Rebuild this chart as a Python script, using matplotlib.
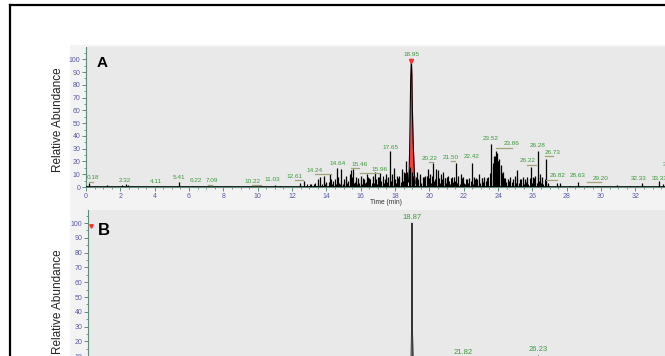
import matplotlib
matplotlib.use('Agg')
import matplotlib.pyplot as plt
import numpy as np
from matplotlib.patches import Rectangle
from matplotlib.lines import Line2D
from matplotlib.ticker import MultipleLocator

plt.rcParams['font.family'] = ['Liberation Sans', 'DejaVu Sans']

# ---------------- data ----------------
# Panel A: labelled peaks (retention time, label position)
label_times_A = [0.18, 2.32, 4.11, 5.41, 6.22, 7.09, 10.22, 11.03, 12.61, 14.24,
                 14.64, 15.46, 15.96, 17.65, 18.95, 20.22, 21.50, 22.42, 23.52, 23.86,
                 26.22, 26.28, 26.73, 26.82, 28.63, 29.20, 32.33, 33.33, 34.07]
label_text_A = ["0.18", "2.32", "4.11", "5.41", "6.22", "7.09", "10.22", "11.03", "12.61", "14.24",
                "14.64", "15.46", "15.96", "17.65", "18.95", "20.22", "21.50", "22.42", "23.52", "23.86",
                "26.22", "26.28", "26.73", "26.82", "28.63", "29.20", "32.33", "33.33", "34.07"]
label_x_A = [0.43, 2.27, 4.06, 5.42, 6.39, 7.36, 9.68, 10.87, 12.17, 13.32,
             14.68, 15.92, 17.08, 17.71, 18.97, 19.99, 21.24, 22.46, 23.57, 24.79,
             25.70, 26.31, 27.18, 27.45, 28.65, 29.98, 32.17, 33.43, 34.07]
label_y_A = [7.3, 4.9, 4.2, 7.6, 4.7, 4.7, 4.2, 5.5, 8.1, 13.3,
             18.6, 17.8, 13.9, 31.1, 104.1, 22.5, 23.3, 23.7, 37.8, 33.7,
             20.6, 32.1, 27.2, 8.8, 8.8, 6.8, 6.8, 6.8, 18.0]

# Panel A: peak apexes (time min, relative abundance %)
peak_t_A = [0.18, 1.25, 2.10, 2.32, 2.45, 4.11, 5.41, 6.22, 7.09, 8.3, 10.22, 11.03, 11.3,
            12.46, 12.68, 13.10, 13.53, 13.63, 13.88, 14.00, 14.20, 14.37, 14.60, 14.70,
            14.84, 15.00, 15.17, 15.35, 15.46, 15.54, 15.70, 15.85, 16.00, 16.20, 16.35,
            16.50, 16.70, 16.85, 17.00, 17.15, 17.30, 17.45, 17.56, 17.70, 17.80, 17.95,
            18.10, 18.25, 18.40, 18.50, 18.65, 19.30, 19.45, 19.60, 19.73, 19.90, 20.03,
            20.22, 20.40, 20.50, 20.65, 20.80, 20.90, 21.00, 21.10, 21.30, 21.53, 21.69,
            21.82, 21.98, 22.17, 22.33, 22.46, 22.62, 22.76, 22.89, 23.05, 23.18, 23.34,
            23.57, 23.69, 23.79, 23.88, 23.96, 24.06, 24.15, 24.27, 24.41, 24.56, 24.70,
            24.85, 24.99, 25.12, 25.28, 25.44, 25.57, 25.71, 25.92, 26.06, 26.17, 26.31,
            26.45, 26.58, 26.79, 26.93, 27.42, 27.61, 28.19, 28.66, 29.16, 29.75, 30.91,
            31.69, 32.08, 32.40, 33.38, 33.63, 33.95]
peak_h_A = [3, 1.5, 1.5, 2, 1.5, 1, 4, 1, 1, 0.8, 1, 1.5, 1,
            3, 5, 2, 6, 8, 9, 4, 10, 5, 15, 8,
            14, 6, 9, 10, 13, 14, 8, 7, 9, 6, 10,
            7, 9, 12, 8, 11, 6, 10, 8, 28, 10, 15,
            9, 8, 14, 12, 20, 12, 10, 8, 9, 14, 10,
            19, 14, 13, 10, 12, 7, 8, 9, 8, 19, 9,
            10, 8, 6, 7, 19, 8, 6, 10, 7, 8, 7,
            34, 18, 24, 28, 27, 22, 17, 12, 7, 6, 8,
            6, 9, 13, 6, 8, 6, 8, 16, 8, 9, 28,
            10, 8, 22, 3, 3, 3, 1, 4, 1, 1, 1.5,
            1, 1, 3, 5, 2, 14]

# Panel A: dense low-level signal, one value per 0.08 min scan from 12.80 min
noise_start_A = 12.80
noise_step_A = 0.08
noise_h_A = [1, 2, 1, 2, 1, 1, 2, 3, 1, 2,
             3, 1, 2, 5, 2, 3, 1, 4, 6, 2,
             3, 6, 2, 7, 3, 2, 5, 2, 4, 7,
             3, 5, 7, 2, 8, 3, 4, 2, 6, 3,
             5, 2, 7, 3, 4, 8, 2, 6, 3, 7,
             3, 6, 2, 8, 4, 5, 9, 3, 6, 4,
             7, 3, 5, 9, 4, 6, 3, 7, 9, 4,
             8, 5, 11, 7, 12, 14, 16, 12, 9, 6,
             8, 4, 6, 9, 3, 5, 8, 3, 9, 4,
             7, 3, 9, 5, 6, 9, 4, 7, 3, 6,
             4, 7, 3, 6, 5, 2, 7, 4, 8, 5,
             3, 6, 2, 5, 7, 3, 2, 6, 3, 2,
             5, 3, 2, 6, 7, 2, 5, 3, 7, 4,
             3, 5, 7, 8, 11, 15, 19, 21, 24, 22,
             20, 17, 14, 11, 7, 5, 4, 3, 5, 2,
             4, 2, 6, 3, 7, 3, 2, 6, 3, 2,
             4, 6, 2, 7, 5, 3, 7, 4, 3, 8,
             5, 3, 7, 2, 6, 3, 2, 1]

# Panel A: profile of the highlighted base peak
main_t_A = [18.78, 18.82, 18.85, 18.88, 18.91, 18.95, 18.98, 19.01, 19.05, 19.09, 19.13, 19.17]
main_h_A = [4, 12, 30, 55, 85, 100, 88, 60, 38, 22, 10, 3]

# Panel B: base peak profile and labelled peaks
main_t_B = [18.80, 18.84, 18.86, 18.87, 18.88, 18.90, 18.94]
main_h_B = [2, 25, 70, 100, 70, 25, 2]
label_times_B = [18.87, 21.82, 26.23]
label_text_B = ["18.87", "21.82", "26.23"]
peak_h_B = [100, 9, 11]

# ---------------- layout helpers ----------------
W, H = 665, 356
fig = plt.figure(figsize=(W / 100, H / 100), dpi=100)
fig.patch.set_facecolor('white')


def fx(px):
    return px / W


def fy(py):
    return 1 - py / H


# light grey panel background
fig.add_artist(Rectangle((fx(70), fy(420)), 1.2, fy(45) - fy(420), transform=fig.transFigure,
                         facecolor='#f3f3f3', edgecolor='none', zorder=0))
# outer black frame (only left and top visible)
fig.add_artist(Line2D([fx(9.5), fx(9.5)], [fy(5), fy(420)], transform=fig.transFigure,
                      color='black', lw=1.6))
fig.add_artist(Line2D([fx(9.5), fx(700)], [fy(5), fy(5)], transform=fig.transFigure,
                      color='black', lw=1.6))

PX_PER_MIN = 17.17
XMAX = 40
tick_col = '#5f8c7c'
lab_col = '#5a5aa6'
green = '#3b9a3b'


def style_axes(ax, yfs):
    ax.set_facecolor('#e9e9e9')
    for s in ['top', 'right']:
        ax.spines[s].set_visible(False)
    for s in ['left', 'bottom']:
        ax.spines[s].set_color(tick_col)
        ax.spines[s].set_linewidth(0.8)
    ax.set_xlim(0, XMAX)
    ax.xaxis.set_major_locator(MultipleLocator(2))
    ax.xaxis.set_minor_locator(MultipleLocator(0.5))
    ax.yaxis.set_major_locator(MultipleLocator(10))
    ax.yaxis.set_minor_locator(MultipleLocator(5))
    ax.tick_params(which='major', length=3, width=0.7, color=tick_col, labelcolor=lab_col,
                   labelsize=yfs, pad=1)
    ax.tick_params(which='minor', length=1.6, width=0.6, color=tick_col)


# ---------------- panel A ----------------
axA = fig.add_axes([fx(86), fy(187), XMAX * PX_PER_MIN / W, 140 / H])
style_axes(axA, 5)
axA.set_ylim(0, 109.6)
noise_t_A = noise_start_A + noise_step_A * np.arange(len(noise_h_A))
axA.vlines(noise_t_A, 0, noise_h_A, color='black', lw=0.8, zorder=3)
axA.vlines(peak_t_A, 0, peak_h_A, color='black', lw=0.9, zorder=3)
axA.plot([0, 34.5], [0.4, 0.4], color='black', lw=0.6, zorder=3)
axA.fill_between(main_t_A, 0, main_h_A, color='#ff3b3b', lw=0, zorder=2)
axA.plot(main_t_A, main_h_A, color='black', lw=0.8, zorder=4)
axA.plot([18.95], [98.5], marker='v', color='#ff3030', ms=3, zorder=5)
for t, txt, lx, ly in zip(label_times_A, label_text_A, label_x_A, label_y_A):
    axA.text(lx, ly, txt, color=green, fontsize=4.6, ha='center', va='center', zorder=6)
    if abs(lx - t) > 0.2:
        axA.plot([t, lx], [ly - 3.0, ly - 3.0], color='#a3a37a', lw=0.9, zorder=5)
axA.text(0.62, 97, 'A', fontsize=11, fontweight='bold', color='black', va='center', ha='left')
fig.text(fx(386), fy(203), 'Time (min)', fontsize=4.8, color='#333333', ha='center', va='center')

# ---------------- panel B ----------------
axB = fig.add_axes([fx(88), fy(371), XMAX * PX_PER_MIN / W, 161 / H])
style_axes(axB, 5)
axB.set_ylim(0, 108.8)
axB.fill_between(main_t_B, 0, main_h_B, color='#555555', lw=0, zorder=2)
axB.plot(main_t_B, main_h_B, color='#333333', lw=0.7, zorder=3)
axB.vlines(label_times_B[1:], 0, peak_h_B[1:], color='#333333', lw=0.8, zorder=3)
for t, txt, h in zip(label_times_B, label_text_B, peak_h_B):
    axB.text(t, h + 3.5, txt, color=green, fontsize=5.5, ha='center', va='center', zorder=6)
axB.plot([0.17], [98], marker='v', color='#ff3030', ms=2.5, zorder=5)
axB.text(0.55, 95, 'B', fontsize=12, fontweight='bold', color='black', va='center', ha='left')

fig.text(fx(58), fy(120), 'Relative Abundance', rotation=90, fontsize=8.5, color='#222222',
         ha='center', va='center')
fig.text(fx(58), fy(302), 'Relative Abundance', rotation=90, fontsize=8.5, color='#222222',
         ha='center', va='center')

fig.savefig('out.png', dpi=100)
